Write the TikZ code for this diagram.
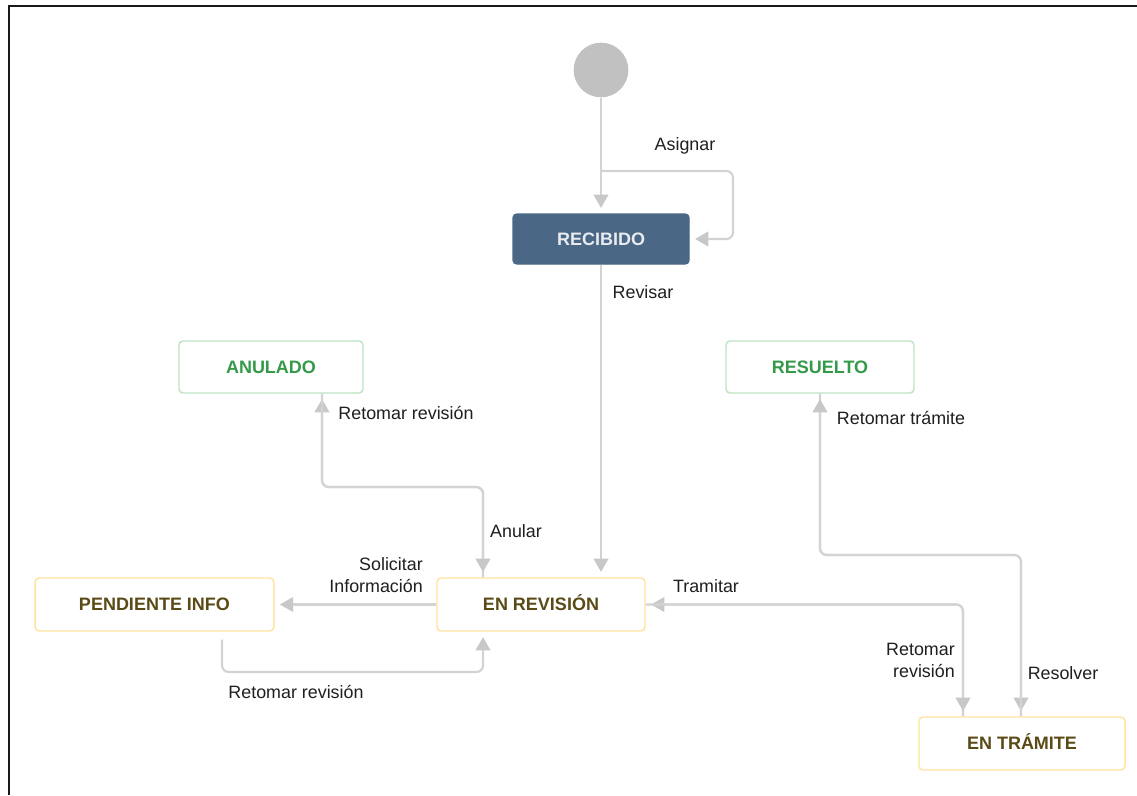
\documentclass[tikz,border=0pt]{standalone}
\usepackage{fontspec}
\setmainfont{Liberation Sans}
\usetikzlibrary{arrows.meta}
\definecolor{lineg}{HTML}{D3D3D3}
\definecolor{tipg}{HTML}{C8C8C8}
\definecolor{recfill}{HTML}{4A6785}
\definecolor{rectext}{HTML}{E8EBEF}
\definecolor{grnborder}{HTML}{BFE3C6}
\definecolor{grntext}{HTML}{35994A}
\definecolor{ylwborder}{HTML}{FFE3A0}
\definecolor{ylwtext}{HTML}{5A4A16}
\definecolor{startg}{HTML}{C1C1C1}
\tikzset{
  state/.style={rounded corners=3pt, font=\fontsize{13.5}{16}\selectfont\bfseries, inner sep=0pt, line width=1.1pt, text height=9.7pt, text depth=0pt},
  recst/.style={state, fill=recfill, text=rectext, draw=recfill},
  grnst/.style={state, draw=grnborder, fill=white, text=grntext},
  ylwst/.style={state, draw=ylwborder, fill=white, text=ylwtext},
  conn/.style={draw=lineg, line width=1.6pt, rounded corners=5pt,
     -{Triangle[width=11pt,length=10pt,color=tipg]}, shorten >=4pt},
  lbl/.style={font=\fontsize{13.4}{16.5}\selectfont, text=black!88, inner sep=0pt},
}
\begin{document}
\begin{tikzpicture}[x=0.75pt,y=-0.75pt]
\useasboundingbox (0,0) rectangle (1137,795);
\fill[white] (0,0) rectangle (1137,795);
\draw[line width=2pt, black!90] (9,795) -- (9,6) -- (1137,6);

% nodes
\node[circle, fill=startg, minimum size=41pt, inner sep=0pt] (start) at (601,70) {};
\node[recst, minimum width=132pt, minimum height=37.5pt] (rec) at (601,239) {RECIBIDO};
\node[grnst, minimum width=138pt, minimum height=39pt] (anul) at (271,367) {ANULADO};
\node[grnst, minimum width=141pt, minimum height=39pt] (res) at (820,367) {RESUELTO};
\node[ylwst, minimum width=179pt, minimum height=39.75pt] (pend) at (154.5,604.5) {PENDIENTE INFO};
\node[ylwst, minimum width=156pt, minimum height=39.75pt] (rev) at (541,604.5) {EN REVISIÓN};
\node[ylwst, minimum width=154.5pt, minimum height=39.75pt] (tram) at (1022,743.5) {EN TRÁMITE};

% bend coordinates
\coordinate (asg) at (601,171);
\coordinate (asgR) at (733,171);
\coordinate (xA) at (483,487);
\coordinate (xB) at (322,487);
\coordinate (pA) at (222,672);
\coordinate (pB) at (483,672);
\coordinate (tA) at (963,604.5);
\coordinate (rB) at (820,555);
\coordinate (rC) at (1021,555);

% connectors
\draw[conn] (start) -- (rec);
\draw[conn] (asg) -- (asgR) |- (rec.east);
\draw[conn] (rec.south) -- (rev.north -| rec.south);
\draw[conn] (rev.north -| xA) -- (xA) -- (xB) -- (anul.south -| xB);
\draw[conn] (anul.south -| xB) -- (xB) -- (xA) -- (rev.north -| xA);
\draw[conn] (rev.west) -- (pend.east);
\draw[conn, shorten <=6pt] (pend.south -| pA) -- (pA) -- (pB) -- (rev.south -| pB);
\draw[conn] (tram.north -| tA) -- (tA) -- (rev.east);
\draw[conn] (rev.east) -- (tA) -- (tram.north -| tA);
\draw[conn] (res.south -| rB) -- (rB) -- (rC) -- (tram.north -| rC);
\draw[conn] (tram.north -| rC) -- (rC) -- (rB) -- (res.south -| rB);

% labels
\node[lbl] (lasg) at (685,146) {Asignar};
\node[lbl] (lrevs) at (643,292) {Revisar};
\node[lbl] (lretA) at (406,413) {Retomar revisión};
\node[lbl] (lanul) at (516,531) {Anular};
\node[lbl, anchor=east, align=right] (lsol) at (423,575) {Solicitar\\Información};
\node[lbl] (ltram) at (706,586) {Tramitar};
\node[lbl] (lretP) at (296,692) {Retomar revisión};
\node[lbl] (lrett) at (901,418) {Retomar trámite};
\node[lbl, anchor=east, align=right] (lretT) at (955,660) {Retomar\\revisión};
\node[lbl] (lresv) at (1063,673) {Resolver};
\end{tikzpicture}
\end{document}
